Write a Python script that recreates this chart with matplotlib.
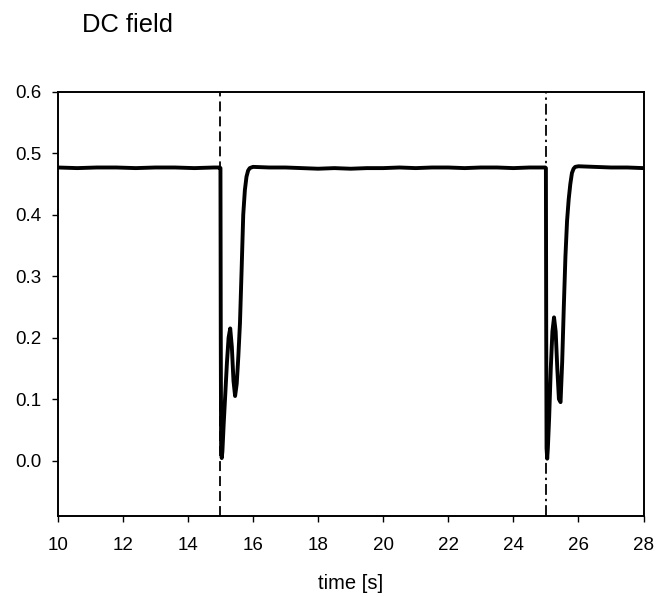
import matplotlib
matplotlib.use("Agg")
import matplotlib.pyplot as plt

plt.rcParams['font.family'] = ['Liberation Sans', 'DejaVu Sans']

# DC field trace
time = [10.0, 10.6, 11.2, 11.8, 12.4, 13.0, 13.6, 14.2, 14.8, 14.98,
        15.0, 15.01, 15.02, 15.04, 15.06, 15.1, 15.15, 15.2, 15.25, 15.3,
        15.35, 15.4, 15.45, 15.5, 15.55, 15.6, 15.65, 15.7, 15.75, 15.8,
        15.85, 15.9, 16.0, 16.5, 17.0, 17.5, 18.0, 18.5, 19.0, 19.5,
        20.0, 20.5, 21.0, 21.5, 22.0, 22.5, 23.0, 23.5, 24.0, 24.5,
        24.98, 25.0, 25.01, 25.02, 25.04, 25.06, 25.1, 25.15, 25.2, 25.25,
        25.3, 25.35, 25.4, 25.45, 25.5, 25.55, 25.6, 25.65, 25.7, 25.75,
        25.8, 25.85, 25.9, 26.0, 26.5, 27.0, 27.5, 28.0]
field = [0.477, 0.476, 0.477, 0.477, 0.476, 0.477, 0.477, 0.476, 0.477, 0.477,
         0.476, 0.2, 0.02, 0.004, 0.015, 0.06, 0.11, 0.16, 0.2, 0.215,
         0.185, 0.13, 0.105, 0.125, 0.17, 0.224, 0.31, 0.4, 0.44, 0.462,
         0.472, 0.476, 0.478, 0.477, 0.477, 0.476, 0.475, 0.476, 0.475, 0.476,
         0.476, 0.477, 0.476, 0.477, 0.477, 0.476, 0.477, 0.477, 0.476, 0.477,
         0.477, 0.476, 0.2, 0.02, 0.003, 0.02, 0.07, 0.15, 0.21, 0.233,
         0.21, 0.15, 0.1, 0.095, 0.16, 0.25, 0.332, 0.39, 0.425, 0.45,
         0.468, 0.475, 0.478, 0.479, 0.478, 0.477, 0.477, 0.476]

markers = [15.0, 25.0]
xticks = [10, 12, 14, 16, 18, 20, 22, 24, 26, 28]
yticks = [0.0, 0.1, 0.2, 0.3, 0.4, 0.5, 0.6]

fig = plt.figure(figsize=(6.56, 5.97), dpi=100)
ax = fig.add_axes([0.088, 0.135, 0.893, 0.711])

ax.plot(time, field, color='black', lw=2.8, solid_joinstyle='round')
ax.axvline(markers[0], color='black', lw=1.3, linestyle=(0, (5.5, 2.8)))
ax.axvline(markers[1], color='black', lw=1.3, linestyle=(0, (6, 2.2, 1.3, 2.2)))

ax.set_xlim(10, 28)
ax.set_ylim(-0.091, 0.6)
ax.set_xticks(xticks)
ax.set_yticks(yticks)
ax.set_yticklabels(['%.1f' % v for v in yticks])
ax.tick_params(direction='out', length=4.5, width=1, labelsize=13.5, colors='black')
ax.tick_params(axis='x', pad=10.5)
ax.tick_params(axis='y', pad=7)
for s in ax.spines.values():
    s.set_linewidth(1.4)

ax.set_xlabel('time [s]', fontsize=14.5, labelpad=14)
fig.text(82 / 656, 1 - 31.7 / 597, 'DC field', fontsize=18.4, va='baseline', ha='left')

fig.savefig('out.png', dpi=100)
